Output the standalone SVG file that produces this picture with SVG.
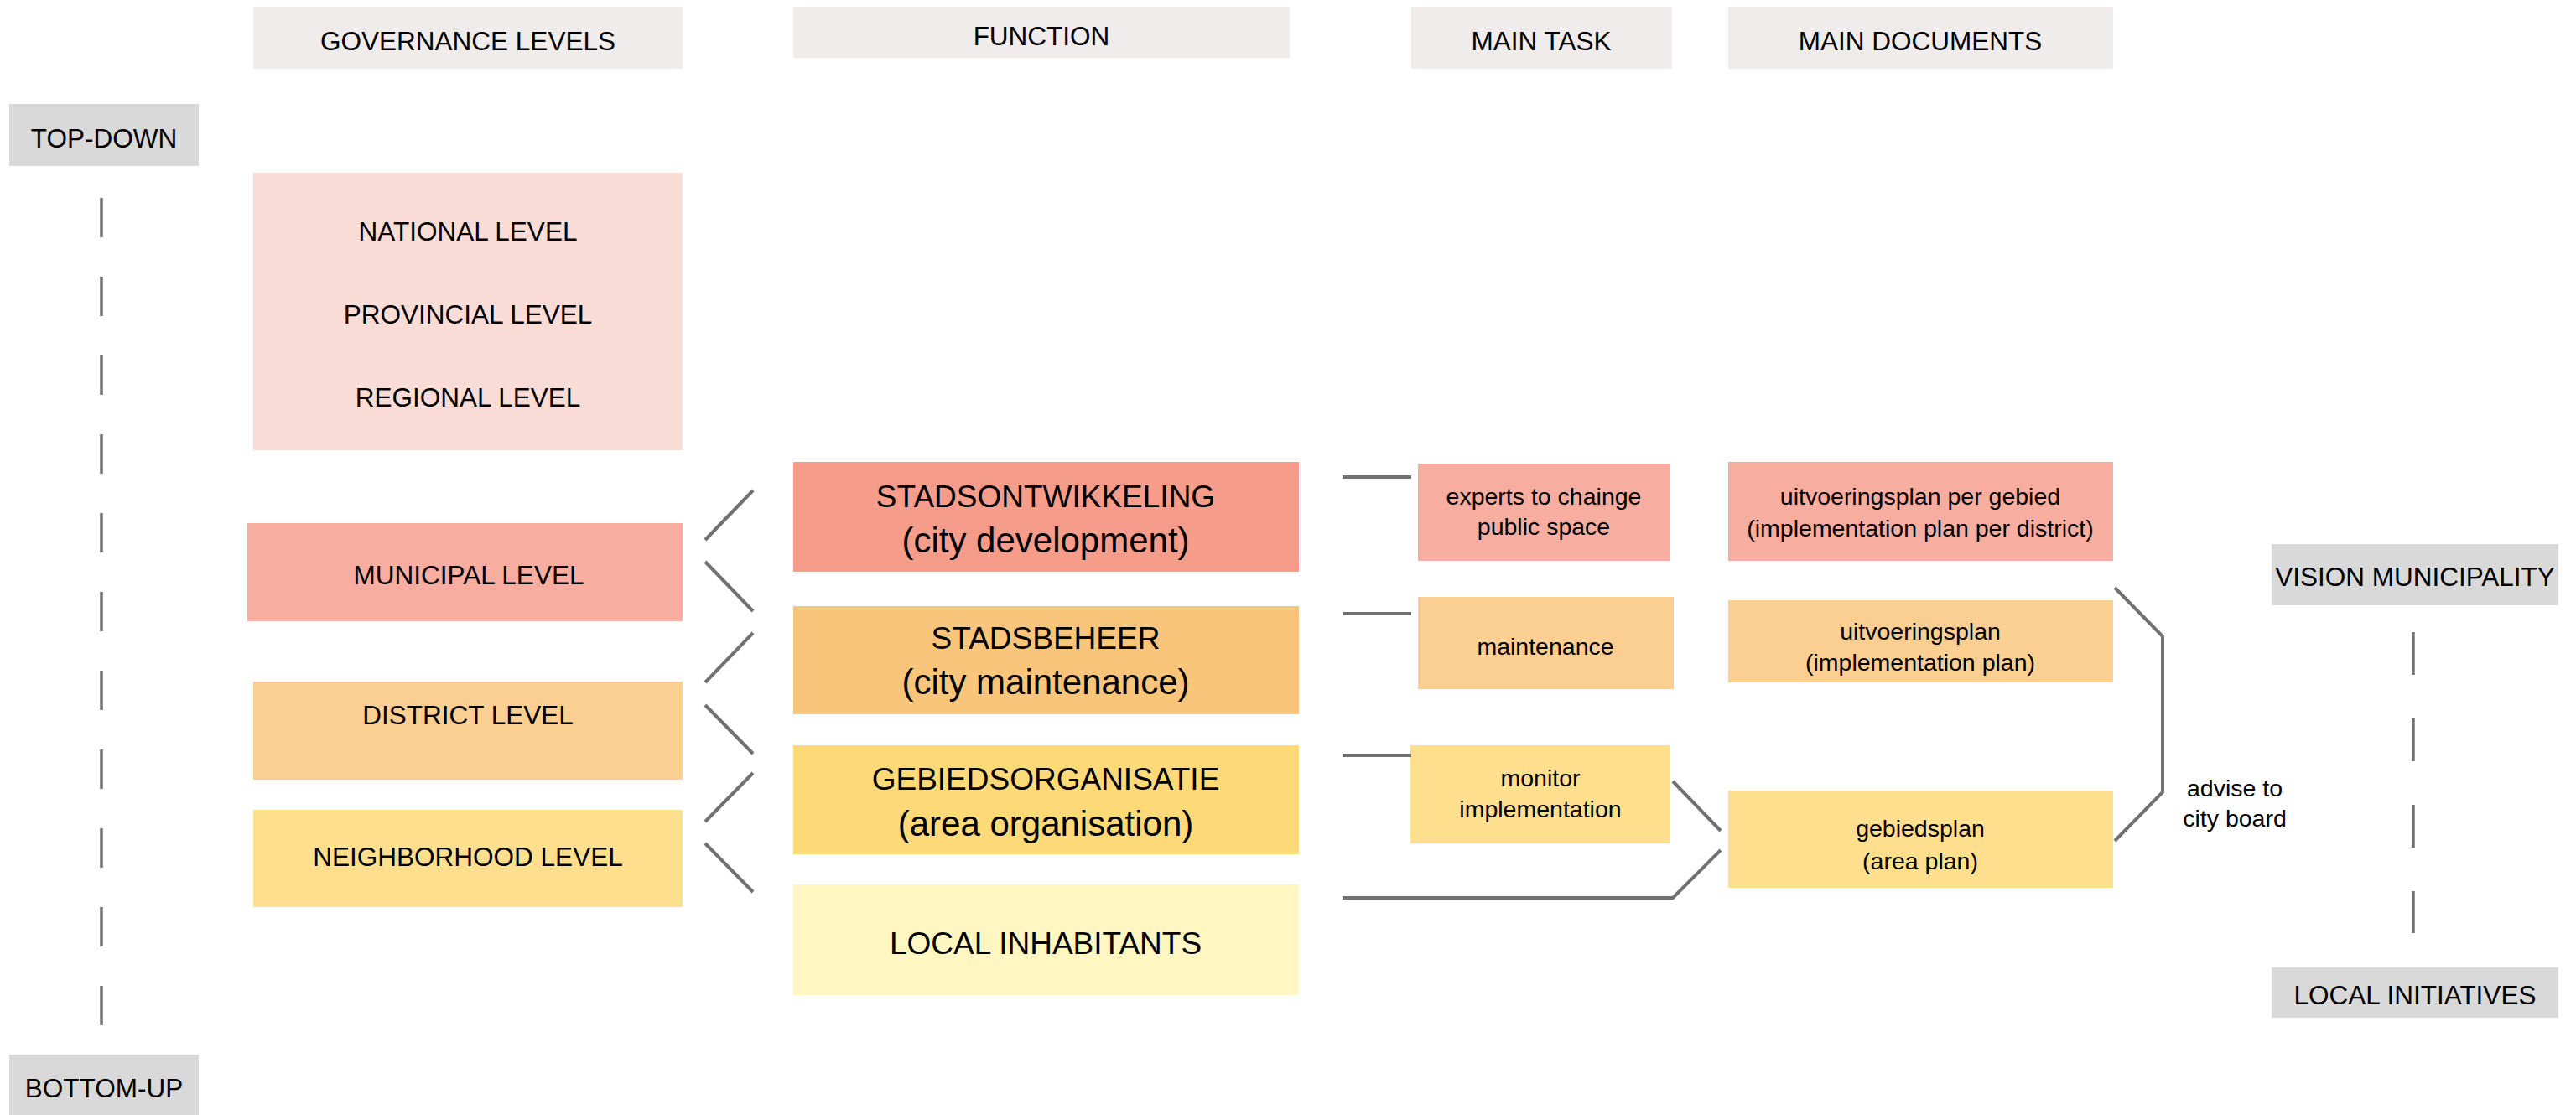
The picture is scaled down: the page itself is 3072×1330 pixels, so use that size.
<svg xmlns="http://www.w3.org/2000/svg" width="3072" height="1330" viewBox="0 0 3072 1330">
<style>
text{font-family:"Liberation Sans",Arial,sans-serif;fill:#000;text-anchor:middle}
.h{font-size:31.5px}
.fc{font-size:37px}
.fl{font-size:42px}
.s{font-size:28.5px}
.hdr{fill:#efeceb}
.gray{fill:#d9d9d9}
.c-nat{fill:#fadcd6}
.c-red{fill:#f7ada0}
.c-org{fill:#fbce91}
.c-yel{fill:#fddf8e}
.c-sto{fill:#f69c8b}
.c-stb{fill:#f9c57a}
.c-geb{fill:#fed978}
.c-loc{fill:#fff6c1}
.ln{stroke:#717171;stroke-width:4;fill:none}
.dash{stroke:#717171;stroke-width:3.5;fill:none}
</style>
<rect width="3072" height="1330" fill="#fff"/>
<g id="header-governance"><rect class="hdr" x="302" y="8" width="512" height="74"/><text class="h" x="558" y="60">GOVERNANCE LEVELS</text></g>
<g id="header-function"><rect class="hdr" x="946" y="8" width="592" height="61"/><text class="h" x="1242" y="54">FUNCTION</text></g>
<g id="header-maintask"><rect class="hdr" x="1683" y="8" width="311" height="74"/><text class="h" x="1838" y="60">MAIN TASK</text></g>
<g id="header-maindocs"><rect class="hdr" x="2061" y="8" width="459" height="74"/><text class="h" x="2290" y="60">MAIN DOCUMENTS</text></g>
<g id="top-down"><rect class="gray" x="11" y="124" width="226" height="74"/><text class="h" x="124" y="176">TOP-DOWN</text></g>
<g id="bottom-up"><rect class="gray" x="11" y="1258" width="226" height="72"/><text class="h" x="124" y="1309">BOTTOM-UP</text></g>
<g id="higher-levels"><rect class="c-nat" x="302" y="206" width="512" height="331"/>
<text class="h" x="558" y="287">NATIONAL LEVEL</text><text class="h" x="558" y="386">PROVINCIAL LEVEL</text><text class="h" x="558" y="485">REGIONAL LEVEL</text></g>
<g id="municipal"><rect class="c-red" x="295" y="624" width="519" height="117"/><text class="h" x="559" y="697">MUNICIPAL LEVEL</text></g>
<g id="district"><rect class="c-org" x="302" y="813" width="512" height="117"/><text class="h" x="558" y="864">DISTRICT LEVEL</text></g>
<g id="neighborhood"><rect class="c-yel" x="302" y="966" width="512" height="116"/><text class="h" x="558" y="1033">NEIGHBORHOOD LEVEL</text></g>
<g id="stadsontwikkeling"><rect class="c-sto" x="946" y="551" width="603" height="131"/><text class="fc" x="1247" y="605">STADSONTWIKKELING</text><text class="fl" x="1247" y="659">(city development)</text></g>
<g id="stadsbeheer"><rect class="c-stb" x="946" y="723" width="603" height="129"/><text class="fc" x="1247" y="774">STADSBEHEER</text><text class="fl" x="1247" y="828">(city maintenance)</text></g>
<g id="gebiedsorganisatie"><rect class="c-geb" x="946" y="889" width="603" height="130"/><text class="fc" x="1247" y="942">GEBIEDSORGANISATIE</text><text class="fl" x="1247" y="997">(area organisation)</text></g>
<g id="local-inhabitants"><rect class="c-loc" x="946" y="1055" width="603" height="132"/><text class="fc" x="1247" y="1138">LOCAL INHABITANTS</text></g>
<g id="task-experts"><rect class="c-red" x="1691" y="553" width="301" height="116"/><text class="s" x="1841" y="602">experts to chainge</text><text class="s" x="1841" y="638">public space</text></g>
<g id="task-maintenance"><rect class="c-org" x="1691" y="712" width="305" height="110"/><text class="s" x="1843" y="781">maintenance</text></g>
<g id="task-monitor"><rect class="c-yel" x="1682" y="889" width="310" height="117"/><text class="s" x="1837" y="938">monitor</text><text class="s" x="1837" y="975">implementation</text></g>
<g id="doc-uitvoeringsplan-gebied"><rect class="c-red" x="2061" y="551" width="459" height="118"/><text class="s" x="2290" y="602">uitvoeringsplan per gebied</text><text class="s" x="2290" y="640">(implementation plan per district)</text></g>
<g id="doc-uitvoeringsplan"><rect class="c-org" x="2061" y="716" width="459" height="98"/><text class="s" x="2290" y="763">uitvoeringsplan</text><text class="s" x="2290" y="800">(implementation plan)</text></g>
<g id="doc-gebiedsplan"><rect class="c-yel" x="2061" y="943" width="459" height="116"/><text class="s" x="2290" y="998">gebiedsplan</text><text class="s" x="2290" y="1037">(area plan)</text></g>
<g id="advise-label"><text class="s" x="2665" y="950">advise to</text><text class="s" x="2665" y="986">city board</text></g>
<g id="vision-municipality"><rect class="gray" x="2709" y="649" width="342" height="73"/><text class="h" x="2880" y="699">VISION MUNICIPALITY</text></g>
<g id="local-initiatives"><rect class="gray" x="2709" y="1154" width="342" height="60"/><text class="h" x="2880" y="1198">LOCAL INITIATIVES</text></g>
<g id="connectors">
<line class="dash" x1="121" y1="236" x2="121" y2="1223" stroke-dasharray="47 47"/>
<line class="dash" x1="2878" y1="754" x2="2878" y2="1113" stroke-dasharray="51 52"/>
<line class="ln" x1="841" y1="644" x2="898" y2="585"/>
<line class="ln" x1="841" y1="670" x2="898" y2="729"/>
<line class="ln" x1="841" y1="814" x2="898" y2="755"/>
<line class="ln" x1="841" y1="841" x2="898" y2="899"/>
<line class="ln" x1="841" y1="980" x2="898" y2="922"/>
<line class="ln" x1="841" y1="1006" x2="898" y2="1064"/>
<line class="ln" x1="1601" y1="569" x2="1683" y2="569"/>
<line class="ln" x1="1601" y1="732" x2="1683" y2="732"/>
<line class="ln" x1="1601" y1="901" x2="1683" y2="901"/>
<polyline class="ln" points="1601,1071 1995,1071 2052,1014"/>
<line class="ln" x1="1995" y1="932" x2="2052" y2="991"/>
<polyline class="ln" points="2522,701 2579,759 2579,945 2522,1003"/>
</g>
</svg>
